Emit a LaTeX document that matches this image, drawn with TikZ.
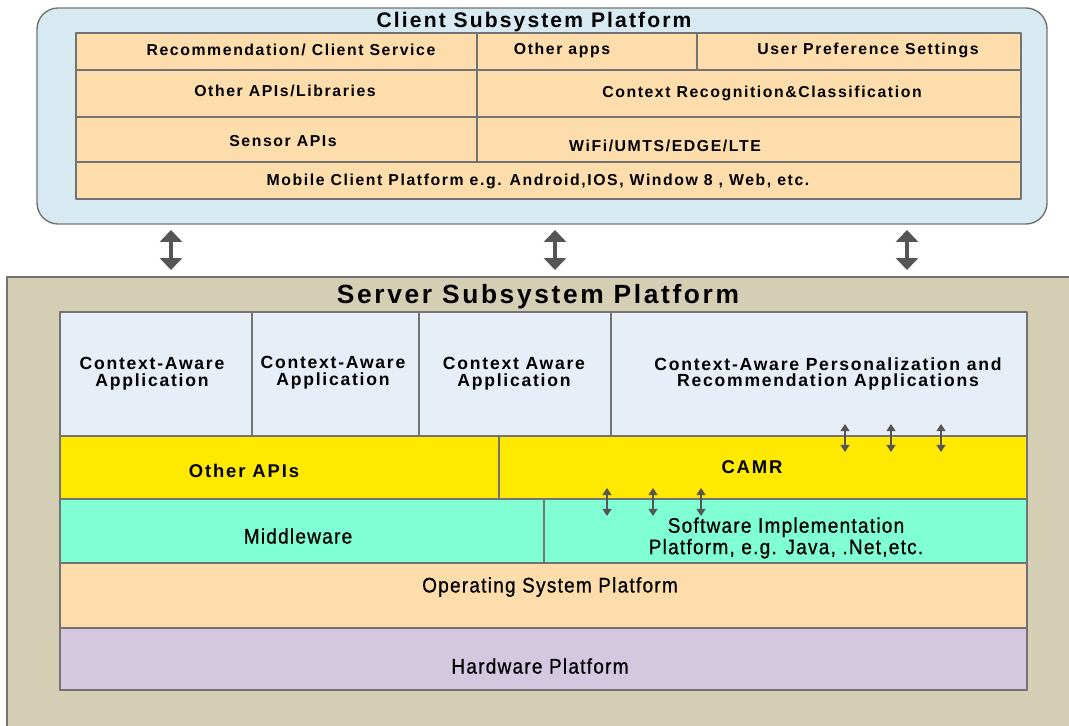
\documentclass[tikz,border=0pt]{standalone}
\usepackage{fontspec}
\setmainfont{Liberation Sans}
\newfontfamily\spacedfont[LetterSpace=10]{Liberation Sans}
\newfontfamily\narrowfont[FakeStretch=0.9,LetterSpace=6,FakeBold=0.8]{Liberation Sans}
\usetikzlibrary{arrows.meta}
\definecolor{clientbg}{HTML}{D7EAF2}
\definecolor{peach}{HTML}{FDDDAB}
\definecolor{serverbg}{HTML}{D3CEB4}
\definecolor{appblue}{HTML}{E8EEF7}
\definecolor{camr}{HTML}{FFE900}
\definecolor{mint}{HTML}{80FFD4}
\definecolor{lilac}{HTML}{D3C8E0}
\definecolor{frame}{HTML}{737373}
\definecolor{arrowgray}{HTML}{555555}
\tikzset{fig/.style={line join=round,>=Stealth},
  cell/.style={draw=frame,line width=0.85pt},
  ctext/.style={font=\spacedfont\bfseries\fontsize{9}{10}\selectfont,align=center},
  atext/.style={font=\spacedfont\bfseries\fontsize{10}{9.6}\selectfont,align=center},
  ytext/.style={font=\spacedfont\bfseries\fontsize{10.5}{10}\selectfont,align=center},
  ntext/.style={font=\narrowfont\fontsize{12}{9.6}\selectfont,align=center},
  bigarr/.style={arrowgray,line width=2.8pt,{Triangle[width=12.5pt,length=6.8pt]}-{Triangle[width=12.5pt,length=6.8pt]}},
  smallarr/.style={arrowgray,line width=0.85pt,{Triangle[width=5pt,length=4pt]}-{Triangle[width=5pt,length=4pt]}}}

\begin{document}
\begin{tikzpicture}[fig,x=0.02cm,y=-0.02cm]
  \clip(0,0)rectangle(1069,726);
  % client side
  \draw[frame,fill=clientbg,line width=0.8pt,rounded corners=12](37,8)rectangle(1047,224);
  \node[font=\spacedfont\bfseries\fontsize{12}{12}\selectfont](client)at(534,22){Client Subsystem Platform};
  \draw[cell,fill=peach](76,33)rectangle(1021,199);
  \draw[cell](76,70)--(1021,70) (76,117)--(1021,117) (76,162)--(1021,162);
  \draw[cell](477,33)--(477,162) (697,33)--(697,70);
  \node[ctext](recserv)at(291,50){Recommendation/ Client Service};
  \node[ctext](otherapps)at(562,50){Other apps};
  \node[ctext](userpref)at(868,50){User Preference Settings};
  \node[ctext](otherlibs)at(285,91){Other APIs/Libraries};
  \node[ctext](ctxrec)at(762,93){Context Recognition\&Classification};
  \node[ctext](sensor)at(283,141){Sensor APIs};
  \node[ctext](wifi)at(665,146){WiFi/UMTS/EDGE/LTE};
  \node[ctext](mobile)at(538,181){Mobile Client Platform e.g. Android,IOS, Window 8 , Web, etc.};
  % links between the two platforms
  \foreach \x/\n in {171/a,555/b,907/c}{
    \coordinate(up\n)at(\x,230);\coordinate(dn\n)at(\x,270);
    \draw[bigarr](up\n)--(dn\n);}
  % server side
  \draw[frame,fill=serverbg,line width=0.8pt](7,277)rectangle(1080,740);
  \node[font=\spacedfont\bfseries\fontsize{15}{15}\selectfont](server)at(538,297){Server Subsystem Platform};
  \draw[cell,fill=appblue](60,312)rectangle(1027,436);
  \draw[cell](252,312)--(252,436) (419,312)--(419,436) (611,312)--(611,436);
  \draw[cell,fill=camr](60,436)rectangle(1027,499);
  \draw[cell](499,436)--(499,499);
  \draw[cell,fill=mint](60,499)rectangle(1027,563);
  \draw[cell](544,499)--(544,563);
  \draw[cell,fill=peach](60,563)rectangle(1027,628);
  \draw[cell,fill=lilac](60,628)rectangle(1027,690);
  \node[atext](app1)at(152,374){Context-Aware\\Application};
  \node[atext](app2)at(333,373){Context-Aware\\Application};
  \node[atext](app3)at(514,374){Context Aware\\Application};
  \node[atext](persrec)at(828,374){Context-Aware Personalization and\\Recommendation Applications};
  \node[ytext](otherapis)at(244,471){Other APIs};
  \node[ytext](camr)at(752,467){CAMR};
  \node[ntext](middle)at(298,536){Middleware};
  \node[ntext](swimpl)at(786,538){Software Implementation\\Platform, e.g. Java, .Net,etc.};
  \node[ntext](os)at(550,587){Operating System Platform};
  \node[ntext](hw)at(540,666){Hardware Platform};
  \foreach \x/\n in {845/a,891/b,941/c}{
    \coordinate(pt\n)at(\x,424);\coordinate(pb\n)at(\x,452);
    \draw[smallarr](pt\n)--(pb\n);}
  \foreach \x/\n in {607/a,653/b,701/c}{
    \coordinate(st\n)at(\x,488);\coordinate(sb\n)at(\x,516);
    \draw[smallarr](st\n)--(sb\n);}
\end{tikzpicture}
\end{document}
